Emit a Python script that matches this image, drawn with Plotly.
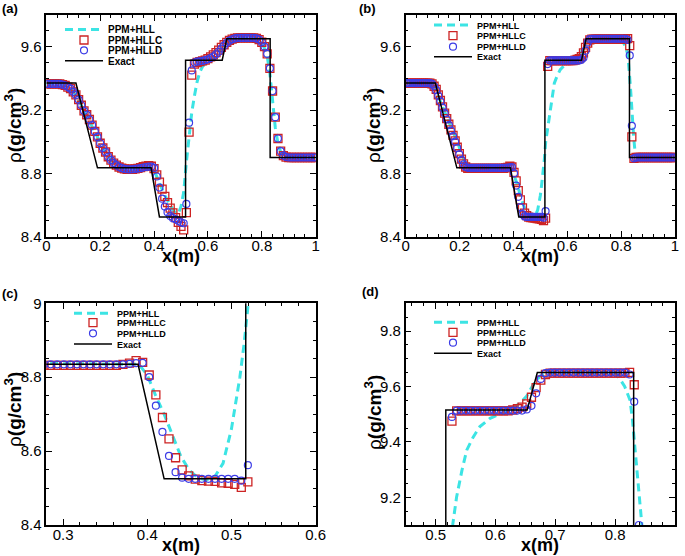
import plotly.graph_objects as go

# ---------------- data ----------------
# exact solution (same for all panels)
exact_x = [0.0, 0.11, 0.19, 0.389, 0.42, 0.517, 0.517, 0.653, 0.67, 0.831, 0.831, 1.0]
exact_y = [9.37, 9.37, 8.835, 8.835, 8.525, 8.525, 9.515, 9.515, 9.65, 9.65, 8.90, 8.90]

# panel (a): coarse grid
x_a = [0.00, 0.01, 0.02, 0.03, 0.04, 0.05, 0.06, 0.07, 0.08, 0.09,
       0.10, 0.11, 0.12, 0.13, 0.14, 0.15, 0.16, 0.17, 0.18, 0.19,
       0.20, 0.21, 0.22, 0.23, 0.24, 0.25, 0.26, 0.27, 0.28, 0.29,
       0.30, 0.31, 0.32, 0.33, 0.34, 0.35, 0.36, 0.37, 0.38, 0.39,
       0.40, 0.41, 0.42, 0.43, 0.44, 0.45, 0.46, 0.47, 0.48, 0.49,
       0.50, 0.51, 0.52, 0.53, 0.54, 0.55, 0.56, 0.57, 0.58, 0.59,
       0.60, 0.61, 0.62, 0.63, 0.64, 0.65, 0.66, 0.67, 0.68, 0.69,
       0.70, 0.71, 0.72, 0.73, 0.74, 0.75, 0.76, 0.77, 0.78, 0.79,
       0.80, 0.81, 0.82, 0.83, 0.84, 0.85, 0.86, 0.87, 0.88, 0.89,
       0.90, 0.91, 0.92, 0.93, 0.94, 0.95, 0.96, 0.97, 0.98, 0.99, 1.00]
hllc_a = [9.365, 9.365, 9.365, 9.365, 9.365, 9.365, 9.36, 9.355, 9.345, 9.335,
          9.315, 9.295, 9.265, 9.23, 9.195, 9.17, 9.14, 9.105, 9.065, 9.03,
          8.99, 8.96, 8.935, 8.905, 8.883, 8.865, 8.852, 8.84, 8.833, 8.828,
          8.826, 8.825, 8.826, 8.828, 8.832, 8.836, 8.842, 8.846, 8.848, 8.845,
          8.83, 8.79, 8.745, 8.70, 8.655, 8.615, 8.58, 8.55, 8.52, 8.49,
          8.465, 8.443, 8.552, 9.06, 9.42, 9.49, 9.50, 9.505, 9.51, 9.515,
          9.525, 9.535, 9.548, 9.562, 9.578, 9.595, 9.612, 9.627, 9.64, 9.648,
          9.652, 9.655, 9.655, 9.655, 9.655, 9.655, 9.655, 9.655, 9.652, 9.645,
          9.628, 9.60, 9.555, 9.463, 9.32, 9.155, 9.02, 8.94, 8.912, 8.903,
          8.90, 8.90, 8.90, 8.90, 8.90, 8.90, 8.90, 8.90, 8.90, 8.90, 8.90]
hlld_a = [9.365, 9.365, 9.365, 9.365, 9.365, 9.365, 9.36, 9.355, 9.345, 9.335,
          9.315, 9.295, 9.265, 9.23, 9.195, 9.17, 9.14, 9.105, 9.065, 9.03,
          8.99, 8.96, 8.935, 8.905, 8.883, 8.865, 8.852, 8.84, 8.833, 8.828,
          8.826, 8.825, 8.826, 8.828, 8.83, 8.833, 8.837, 8.84, 8.842, 8.842,
          8.834, 8.78, 8.71, 8.64, 8.59, 8.555, 8.53, 8.517, 8.51, 8.50,
          8.49, 8.485, 8.607, 9.12, 9.45, 9.50, 9.505, 9.508, 9.51, 9.515,
          9.52, 9.528, 9.538, 9.552, 9.568, 9.588, 9.607, 9.624, 9.638, 9.647,
          9.652, 9.655, 9.655, 9.655, 9.655, 9.655, 9.655, 9.655, 9.652, 9.645,
          9.628, 9.60, 9.555, 9.463, 9.32, 9.155, 9.02, 8.94, 8.912, 8.903,
          8.90, 8.90, 8.90, 8.90, 8.90, 8.90, 8.90, 8.90, 8.90, 8.90, 8.90]
hll_a_x = [0.0, 0.05, 0.07, 0.09, 0.11, 0.13, 0.15, 0.17, 0.19, 0.21,
           0.23, 0.25, 0.27, 0.29, 0.32, 0.35, 0.38, 0.40, 0.42, 0.44,
           0.46, 0.47, 0.48, 0.49, 0.50, 0.51, 0.52, 0.53, 0.54, 0.55,
           0.56, 0.57, 0.58, 0.595, 0.62, 0.64, 0.66, 0.68, 0.70, 0.72,
           0.78, 0.80, 0.81, 0.82, 0.83, 0.84, 0.85, 0.86, 0.87, 0.88,
           0.89, 1.0]
hll_a_y = [9.365, 9.365, 9.355, 9.335, 9.295, 9.23, 9.17, 9.105, 9.03, 8.96,
           8.905, 8.865, 8.84, 8.828, 8.826, 8.832, 8.84, 8.82, 8.74, 8.66,
           8.60, 8.57, 8.55, 8.545, 8.59, 8.68, 8.87, 9.046, 9.184, 9.29,
           9.38, 9.44, 9.475, 9.50, 9.53, 9.565, 9.605, 9.638, 9.652, 9.655,
           9.652, 9.62, 9.59, 9.54, 9.43, 9.25, 9.09, 8.99, 8.935, 8.91,
           8.90, 8.90]

# panels (b), (c), (d): fine grid
x_b = [0.0039, 0.0117, 0.0195, 0.0273, 0.0352, 0.0430, 0.0508, 0.0586, 0.0664, 0.0742,
       0.0820, 0.0898, 0.0977, 0.1055, 0.1133, 0.1211, 0.1289, 0.1367, 0.1445, 0.1523,
       0.1602, 0.1680, 0.1758, 0.1836, 0.1914, 0.1992, 0.2070, 0.2148, 0.2227, 0.2305,
       0.2383, 0.2461, 0.2539, 0.2617, 0.2695, 0.2773, 0.2852, 0.2930, 0.3008, 0.3086,
       0.3164, 0.3242, 0.3320, 0.3398, 0.3477, 0.3555, 0.3633, 0.3711, 0.3789, 0.3867,
       0.3945, 0.4023, 0.4102, 0.4180, 0.4258, 0.4336, 0.4414, 0.4492, 0.4570, 0.4648,
       0.4727, 0.4805, 0.4883, 0.4961, 0.5039, 0.5117, 0.5195, 0.5273, 0.5352, 0.5430,
       0.5508, 0.5586, 0.5664, 0.5742, 0.5820, 0.5898, 0.5977, 0.6055, 0.6133, 0.6211,
       0.6289, 0.6367, 0.6445, 0.6523, 0.6602, 0.6680, 0.6758, 0.6836, 0.6914, 0.6992,
       0.7070, 0.7148, 0.7227, 0.7305, 0.7383, 0.7461, 0.7539, 0.7617, 0.7695, 0.7773,
       0.7852, 0.7930, 0.8008, 0.8086, 0.8164, 0.8242, 0.8320, 0.8398, 0.8477, 0.8555,
       0.8633, 0.8711, 0.8789, 0.8867, 0.8945, 0.9023, 0.9102, 0.9180, 0.9258, 0.9336,
       0.9414, 0.9492, 0.9570, 0.9648, 0.9727, 0.9805, 0.9883, 0.9961]
hllc_b = [9.37, 9.37, 9.37, 9.37, 9.37, 9.37, 9.37, 9.37, 9.37, 9.37,
          9.37, 9.37, 9.365, 9.35, 9.33, 9.295, 9.26, 9.22, 9.18, 9.145,
          9.11, 9.075, 9.04, 9.005, 8.965, 8.925, 8.89, 8.86, 8.84, 8.832,
          8.832, 8.832, 8.832, 8.832, 8.832, 8.832, 8.832, 8.832, 8.832, 8.832,
          8.832, 8.832, 8.832, 8.832, 8.832, 8.832, 8.832, 8.835, 8.838, 8.845,
          8.84, 8.806, 8.752, 8.691, 8.633, 8.582, 8.549, 8.533, 8.524, 8.52,
          8.519, 8.518, 8.514, 8.513, 8.51, 8.502, 8.517, 9.475, 9.512, 9.512,
          9.512, 9.512, 9.512, 9.512, 9.512, 9.512, 9.512, 9.512, 9.512, 9.512,
          9.515, 9.52, 9.525, 9.537, 9.561, 9.596, 9.623, 9.643, 9.648, 9.648,
          9.648, 9.648, 9.648, 9.648, 9.648, 9.648, 9.648, 9.648, 9.648, 9.648,
          9.648, 9.648, 9.648, 9.648, 9.648, 9.651, 9.606, 9.031, 8.895, 8.90,
          8.90, 8.90, 8.90, 8.90, 8.90, 8.90, 8.90, 8.90, 8.90, 8.90,
          8.90, 8.90, 8.90, 8.90, 8.90, 8.90, 8.90, 8.90]
hlld_b = [9.37, 9.37, 9.37, 9.37, 9.37, 9.37, 9.37, 9.37, 9.37, 9.37,
          9.37, 9.37, 9.365, 9.35, 9.325, 9.29, 9.255, 9.215, 9.18, 9.14,
          9.105, 9.07, 9.035, 9.0, 8.96, 8.92, 8.885, 8.857, 8.84, 8.835,
          8.835, 8.835, 8.835, 8.835, 8.835, 8.835, 8.835, 8.835, 8.835, 8.835,
          8.835, 8.835, 8.835, 8.835, 8.835, 8.835, 8.835, 8.835, 8.836, 8.838,
          8.839, 8.80, 8.723, 8.652, 8.587, 8.543, 8.528, 8.525, 8.525, 8.525,
          8.525, 8.525, 8.525, 8.525, 8.525, 8.52, 8.562, 9.49, 9.513, 9.513,
          9.513, 9.513, 9.513, 9.513, 9.513, 9.513, 9.513, 9.513, 9.513, 9.513,
          9.513, 9.513, 9.513, 9.517, 9.53, 9.575, 9.627, 9.648, 9.65, 9.65,
          9.65, 9.65, 9.65, 9.65, 9.65, 9.65, 9.65, 9.65, 9.65, 9.65,
          9.65, 9.65, 9.65, 9.65, 9.65, 9.643, 9.545, 9.10, 8.895, 8.90,
          8.90, 8.90, 8.90, 8.90, 8.90, 8.90, 8.90, 8.90, 8.90, 8.90,
          8.90, 8.90, 8.90, 8.90, 8.90, 8.90, 8.90, 8.90]
hll_b_x = [0.0, 0.09, 0.105, 0.12, 0.135, 0.15, 0.165, 0.18, 0.195, 0.21,
           0.225, 0.24, 0.39, 0.40, 0.41, 0.42, 0.43, 0.44, 0.45, 0.46,
           0.47, 0.48, 0.49, 0.495, 0.50, 0.505, 0.51, 0.515, 0.52, 0.5285,
           0.535, 0.544, 0.552, 0.563, 0.574, 0.591, 0.608, 0.624, 0.641, 0.652,
           0.663, 0.674, 0.685, 0.80, 0.807, 0.816, 0.825, 0.829, 0.833, 0.837,
           0.84, 0.843, 0.847, 0.851, 0.856, 0.862, 0.87, 1.0]
hll_b_y = [9.37, 9.37, 9.35, 9.29, 9.235, 9.17, 9.11, 9.05, 8.985, 8.91,
           8.855, 8.838, 8.835, 8.806, 8.75, 8.70, 8.64, 8.585, 8.548, 8.528,
           8.522, 8.53, 8.567, 8.61, 8.66, 8.73, 8.80, 8.89, 9.0, 9.10,
           9.20, 9.297, 9.37, 9.418, 9.455, 9.485, 9.50, 9.515, 9.54, 9.564,
           9.606, 9.636, 9.65, 9.65, 9.63, 9.60, 9.55, 9.479, 9.382, 9.285,
           9.188, 9.115, 9.02, 8.95, 8.915, 8.902, 8.90, 8.90]

series_names = ["PPM+HLL", "PPM+HLLC", "PPM+HLLD", "Exact"]
panel_labels = ["(a)", "(b)", "(c)", "(d)"]

# ---------------- layout helpers ----------------
W, H = 685, 556
def fx(px):
    return px / W
def fy(py):
    return 1 - py / H

CYAN = "rgb(60,228,228)"
RED = "rgb(205,35,35)"
BLUE = "rgb(60,60,230)"

fig = go.Figure()

panels = [
    dict(ax="", hll=(hll_a_x, hll_a_y), pts=(x_a, hllc_a, hlld_a)),
    dict(ax="2", hll=(hll_b_x, hll_b_y), pts=(x_b, hllc_b, hlld_b)),
    dict(ax="3", hll=(hll_b_x, hll_b_y), pts=(x_b, hllc_b, hlld_b)),
    dict(ax="4", hll=(hll_b_x, hll_b_y), pts=(x_b, hllc_b, hlld_b)),
]

def legname(n):
    return "legend" if n == 1 else "legend%d" % n

for k, p in enumerate(panels):
    xa, ya = "x" + p["ax"], "y" + p["ax"]
    hx, hy = p["hll"]
    px_, c_, d_ = p["pts"]
    base = 4 * k
    fig.add_trace(go.Scatter(x=hx, y=hy, mode="lines", name=series_names[0],
                             line=dict(color=CYAN, width=3, dash="8px,5px"),
                             xaxis=xa, yaxis=ya, legend=legname(base + 1)))
    fig.add_trace(go.Scatter(x=px_, y=c_, mode="markers", name=series_names[1],
                             marker=dict(symbol="square-open", size=8, color=RED,
                                         line=dict(width=1.3, color=RED)),
                             xaxis=xa, yaxis=ya, legend=legname(base + 2)))
    fig.add_trace(go.Scatter(x=px_, y=d_, mode="markers", name=series_names[2],
                             marker=dict(symbol="circle-open", size=7, color=BLUE,
                                         line=dict(width=1.2, color=BLUE)),
                             xaxis=xa, yaxis=ya, legend=legname(base + 3)))
    fig.add_trace(go.Scatter(x=exact_x, y=exact_y, mode="lines", name=series_names[3],
                             line=dict(color="black", width=1.5),
                             xaxis=xa, yaxis=ya, legend=legname(base + 4)))

tickfont = dict(family="Liberation Sans, Arial, sans-serif", size=15, color="black")
def axis(domain, rng, dtick, tick0, mdtick, anchor, standoff):
    return dict(domain=domain, range=rng, dtick=dtick, tick0=tick0, anchor=anchor,
                showline=True, linecolor="black", linewidth=1.5, mirror="allticks",
                ticks="inside", ticklen=6, tickwidth=1.2, tickcolor="black",
                showgrid=False, zeroline=False, tickfont=tickfont, automargin=False,
                ticklabelstandoff=standoff,
                minor=dict(dtick=mdtick, ticks="inside", ticklen=3, tickwidth=1,
                           tickcolor="black", showgrid=False))

XL = [fx(46.3), fx(315.7)]
XR = [fx(405.7), fx(675)]
YT = [fy(236.7), fy(15)]
YB = [fy(525), fy(303.3)]

layout = dict(
    width=W, height=H, margin=dict(l=0, r=0, t=0, b=0),
    paper_bgcolor="white", plot_bgcolor="white", showlegend=True,
    xaxis=axis(XL, [0, 1.0001], 0.2, 0, 0.04, "y", -5),
    yaxis=axis(YT, [8.4, 9.8], 0.4, 8.4, 0.1, "x", 0),
    xaxis2=axis(XR, [0, 1.0001], 0.2, 0, 0.04, "y2", -5),
    yaxis2=axis(YT, [8.4, 9.8], 0.4, 8.4, 0.1, "x2", 0),
    xaxis3=axis(XL, [0.28, 0.6001], 0.1, 0, 0.02, "y3", -5),
    yaxis3=axis(YB, [8.4, 9.0001], 0.2, 8.4, 0.05, "x3", 0),
    xaxis4=axis(XR, [0.45, 0.9001], 0.1, 0, 0.02, "y4", -5),
    yaxis4=axis(YB, [9.1, 9.9], 0.2, 9.2, 0.05, "x4", 0),
)

# one legend per entry, so that entries can sit as close together as in the reference
leg_text_x = [108, 477, 117, 477]          # left edge of legend texts (px)
leg_rows = [[29.5, 40, 50.3, 60.7],
            [25, 35.7, 46.7, 56.7],
            [313.3, 322.7, 333.3, 344],
            [322.3, 332.3, 342.7, 353.3]]
leg_size = [10, 9, 9, 9]
ITEMW = 38
for k in range(4):
    for j in range(4):
        n = 4 * k + j + 1
        layout[legname(n)] = dict(
            x=fx(leg_text_x[k] - ITEMW - 10), y=fy(leg_rows[k][j]),
            xanchor="left", yanchor="middle", bgcolor="rgba(0,0,0,0)",
            borderwidth=0, itemwidth=ITEMW, tracegroupgap=0,
            font=dict(family="Liberation Sans, Arial, sans-serif", size=leg_size[k],
                      color="black", weight="bold"))
fig.update_layout(**layout)

ann = []
titlefont = dict(family="Liberation Sans, Arial, sans-serif", size=18, color="black")
for cx, cy in [(181, 256), (540, 256), (181, 545), (540, 545)]:
    ann.append(dict(x=fx(cx), y=fy(cy), xref="paper", yref="paper", text="<b>x(m)</b>",
                    showarrow=False, font=titlefont, xanchor="center", yanchor="middle"))
for cx, cy in [(13, 126), (372, 126), (13, 410), (373, 413)]:
    ann.append(dict(x=fx(cx), y=fy(cy), xref="paper", yref="paper",
                    text="ρ<b>(g/cm<sup>3</sup>)</b>", textangle=-90,
                    showarrow=False, font=dict(family="Liberation Sans, Arial, sans-serif",
                                               size=19, color="black"),
                    xanchor="center", yanchor="middle"))
for lab, (cx, cy) in zip(panel_labels, [(10, 8), (367, 8), (10, 293), (370, 291)]):
    ann.append(dict(x=fx(cx), y=fy(cy), xref="paper", yref="paper", text="<b>" + lab + "</b>",
                    showarrow=False, font=dict(family="Liberation Sans, Arial", size=13, color="black"),
                    xanchor="center", yanchor="middle"))
fig.update_layout(annotations=ann)

fig.write_html("out.html", config={"displayModeBar": False},
               post_script="document.body.style.margin='0';document.body.style.overflow='hidden';")
